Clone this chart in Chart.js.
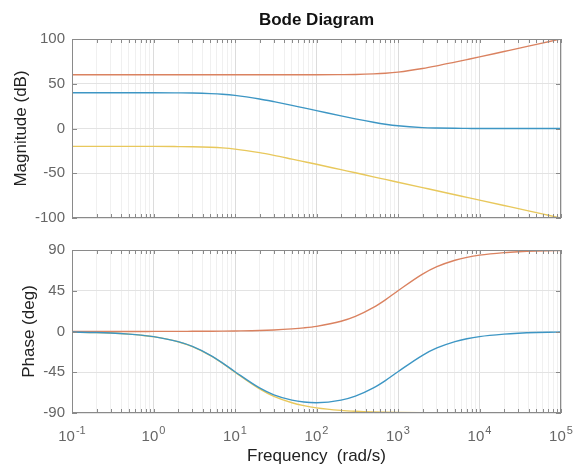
<!DOCTYPE html>
<html>
<head>
<meta charset="utf-8">
<script src="https://cdn.jsdelivr.net/npm/chart.js@4/dist/chart.umd.min.js"></script>
<style>
  html, body { margin: 0; padding: 0; background: #fff; }
  #wrap { position: relative; width: 580px; height: 468px; }
  .box { position: absolute; left: 0; width: 580px; height: 234px; }
  canvas { display: block; }
</style>
</head>
<body>
<div id="wrap">
  <div class="box" style="top:0"><canvas id="mag" width="580" height="234"></canvas></div>
  <div class="box" style="top:234px"><canvas id="phase" width="580" height="234"></canvas></div>
</div>
<script>
// frequencies (rad/s) the curves were read at
const freq = [0.1, 0.2, 0.3, 0.5, 0.7, 1, 2, 3, 5, 7, 10, 20, 30, 50, 70,
  100, 200, 300, 500, 700, 1000, 2000, 3000, 5000, 7000,
  1e4, 2e4, 3e4, 5e4, 7e4, 1e5];

// magnitude (dB)
const magBlue = [40, 40, 40, 40, 40, 40, 39.8, 39.6, 39, 38.3, 37, 33, 30, 25.9, 23,
  20, 14.1, 10.8, 7, 4.8, 3, 1, 0.5, 0.2, 0.1, 0, 0, 0, 0, 0, 0];
const magOrange = [60, 60, 60, 60, 60, 60, 60, 60, 60, 60, 60, 60, 60, 60, 60,
  60, 60.2, 60.4, 61, 61.7, 63, 67, 70, 74.2, 77, 80, 86, 89.5, 94, 96.9, 100];
const magYellow = [-20, -20, -20, -20, -20, -20, -20.2, -20.4, -21, -21.7, -23, -27, -30, -34.2, -37,
  -40, -46, -49.5, -54, -56.9, -60, -66, -69.5, -74, -76.9, -80, -86, -89.5, -94, -96.9, -100];

// phase (deg)
const phBlue = [-0.6, -1.1, -1.7, -2.9, -4, -5.6, -11.2, -16.5, -26.3, -34.6, -44.4, -62.3, -69.9, -75.8, -77.9,
  -78.6, -75.8, -71.4, -62.3, -54.2, -44.4, -26.3, -18.2, -11.2, -8, -5.6, -2.9, -1.9, -1.1, -0.8, -0.6];
const phOrange = [0, 0, 0, 0, 0, 0.1, 0.1, 0.2, 0.3, 0.4, 0.6, 1.1, 1.7, 2.9, 4,
  5.7, 11.3, 16.7, 26.6, 35, 45, 63.4, 71.6, 78.7, 81.9, 84.3, 87.1, 88.1, 88.9, 89.2, 89.4];
const phYellow = [-0.6, -1.1, -1.7, -2.9, -4, -5.7, -11.3, -16.7, -26.6, -35, -45, -63.4, -71.6, -78.7, -81.9,
  -84.3, -87.1, -88.1, -88.9, -89.2, -89.4, -89.7, -89.8, -89.9, -89.9, -89.9, -90, -90, -90, -90, -90];

const magTicks = [-100, -50, 0, 50, 100];
const phaseTicks = [-90, -45, 0, 45, 90];
const decades = [-1, 0, 1, 2, 3, 4, 5];

const BLUE = "#3d96c4", ORANGE = "#da8260", YELLOW = "#e8c85c";
const FONT = "'Liberation Sans', Arial, sans-serif";
const LABEL = "#666";

const isPow = (v) => Math.abs(Math.log10(v) - Math.round(Math.log10(v))) < 1e-9;
const pts = (ys) => freq.map((f, i) => ({ x: f, y: ys[i] }));

function line(ys, color) {
  return {
    data: pts(ys),
    borderColor: color,
    borderWidth: 1.4,
    pointRadius: 0,
    cubicInterpolationMode: "monotone",
    fill: false,
  };
}

// minor log ticks 1..9 per decade
function logTicks(scale) {
  const t = [];
  for (let i = 0; i < decades.length - 1; i++) {
    for (let m = 1; m < 10; m++) t.push({ value: m * Math.pow(10, decades[i]) });
  }
  t.push({ value: Math.pow(10, decades[decades.length - 1]) });
  scale.ticks = t;
}

// box round the plot plus inward tick marks, MATLAB style
const frame = {
  id: "frame",
  afterDraw(chart) {
    const { ctx, chartArea: a, scales } = chart;
    ctx.save();
    ctx.strokeStyle = "#8a8a8a";
    ctx.lineWidth = 1;
    ctx.beginPath();
    scales.x.ticks.forEach((t) => {
      const px = Math.round(scales.x.getPixelForValue(t.value)) + 0.5;
      ctx.moveTo(px, a.top);
      ctx.lineTo(px, a.top + 4);
      ctx.moveTo(px, a.bottom);
      ctx.lineTo(px, a.bottom - 4);
    });
    scales.y.ticks.forEach((t) => {
      const py = Math.round(scales.y.getPixelForValue(t.value)) + 0.5;
      ctx.moveTo(a.left, py);
      ctx.lineTo(a.left + 5, py);
      ctx.moveTo(a.right, py);
      ctx.lineTo(a.right - 5, py);
    });
    ctx.stroke();
    ctx.strokeRect(Math.round(a.left) + 0.5, Math.round(a.top) + 0.5,
      Math.round(a.right - a.left) - 1, Math.round(a.bottom - a.top) - 1);
    ctx.restore();
  },
};

// "10" with a raised exponent under each decade
const decadeLabels = {
  id: "decadeLabels",
  afterDraw(chart) {
    const { ctx, chartArea: a, scales } = chart;
    ctx.save();
    ctx.fillStyle = LABEL;
    ctx.textBaseline = "alphabetic";
    ctx.textAlign = "left";
    decades.forEach((e) => {
      const px = scales.x.getPixelForValue(Math.pow(10, e));
      const base = "10", exp = String(e);
      ctx.font = "15px " + FONT;
      const wb = ctx.measureText(base).width;
      ctx.font = "11px " + FONT;
      const we = ctx.measureText(exp).width;
      const x0 = px - (wb + we + 1) / 2;
      ctx.font = "15px " + FONT;
      ctx.fillText(base, x0, a.bottom + 28);
      ctx.font = "11px " + FONT;
      ctx.fillText(exp, x0 + wb + 1, a.bottom + 21);
    });
    ctx.restore();
  },
};

function xAxis(showTitle) {
  return {
    type: "logarithmic",
    min: 0.1,
    max: 1e5,
    afterBuildTicks: logTicks,
    afterFit: (s) => { s.height = showTitle ? 55 : 0; },
    grid: {
      drawTicks: false,
      color: (c) => (c.tick && isPow(c.tick.value) ? "#dcdcdc" : "#f0f0f0"),
    },
    border: { display: false },
    ticks: { display: false },
    title: {
      display: showTitle,
      text: "Frequency  (rad/s)",
      color: "#222",
      font: { family: FONT, size: 17 },
      padding: { top: 0, bottom: 1 },
    },
  };
}

function yAxis(ticks, label, titlePad) {
  return {
    min: ticks[0],
    max: ticks[ticks.length - 1],
    afterBuildTicks: (s) => { s.ticks = ticks.map((v) => ({ value: v })); },
    afterFit: (s) => { s.width = 72; },
    grid: { drawTicks: false, color: "#e3e3e3" },
    border: { display: false },
    ticks: { padding: 7, color: LABEL, font: { family: FONT, size: 15 } },
    title: {
      display: true,
      text: label,
      color: "#222",
      font: { family: FONT, size: 17 },
      padding: { top: titlePad, bottom: 0 },
    },
  };
}

new Chart(document.getElementById("mag"), {
  type: "line",
  data: { datasets: [line(magBlue, BLUE), line(magOrange, ORANGE), line(magYellow, YELLOW)] },
  options: {
    responsive: false,
    animation: false,
    layout: { padding: { left: 0, right: 19, top: 0, bottom: 5 } },
    scales: { x: xAxis(false), y: yAxis(magTicks, "Magnitude (dB)", 11) },
    plugins: {
      legend: { display: false },
      tooltip: { enabled: false },
      title: {
        display: true,
        fullSize: false,
        text: "Bode Diagram",
        color: "#111",
        font: { family: FONT, size: 17, weight: "bold" },
        padding: { top: 10, bottom: 8.6 },
      },
    },
  },
  plugins: [frame],
});

new Chart(document.getElementById("phase"), {
  type: "line",
  data: { datasets: [line(phBlue, BLUE), line(phOrange, ORANGE), line(phYellow, YELLOW)] },
  options: {
    responsive: false,
    animation: false,
    layout: { padding: { left: 0, right: 19, top: 11, bottom: 0 } },
    scales: { x: xAxis(true), y: yAxis(phaseTicks, "Phase (deg)", 19) },
    plugins: { legend: { display: false }, tooltip: { enabled: false } },
  },
  plugins: [frame, decadeLabels],
});
</script>
</body>
</html>
